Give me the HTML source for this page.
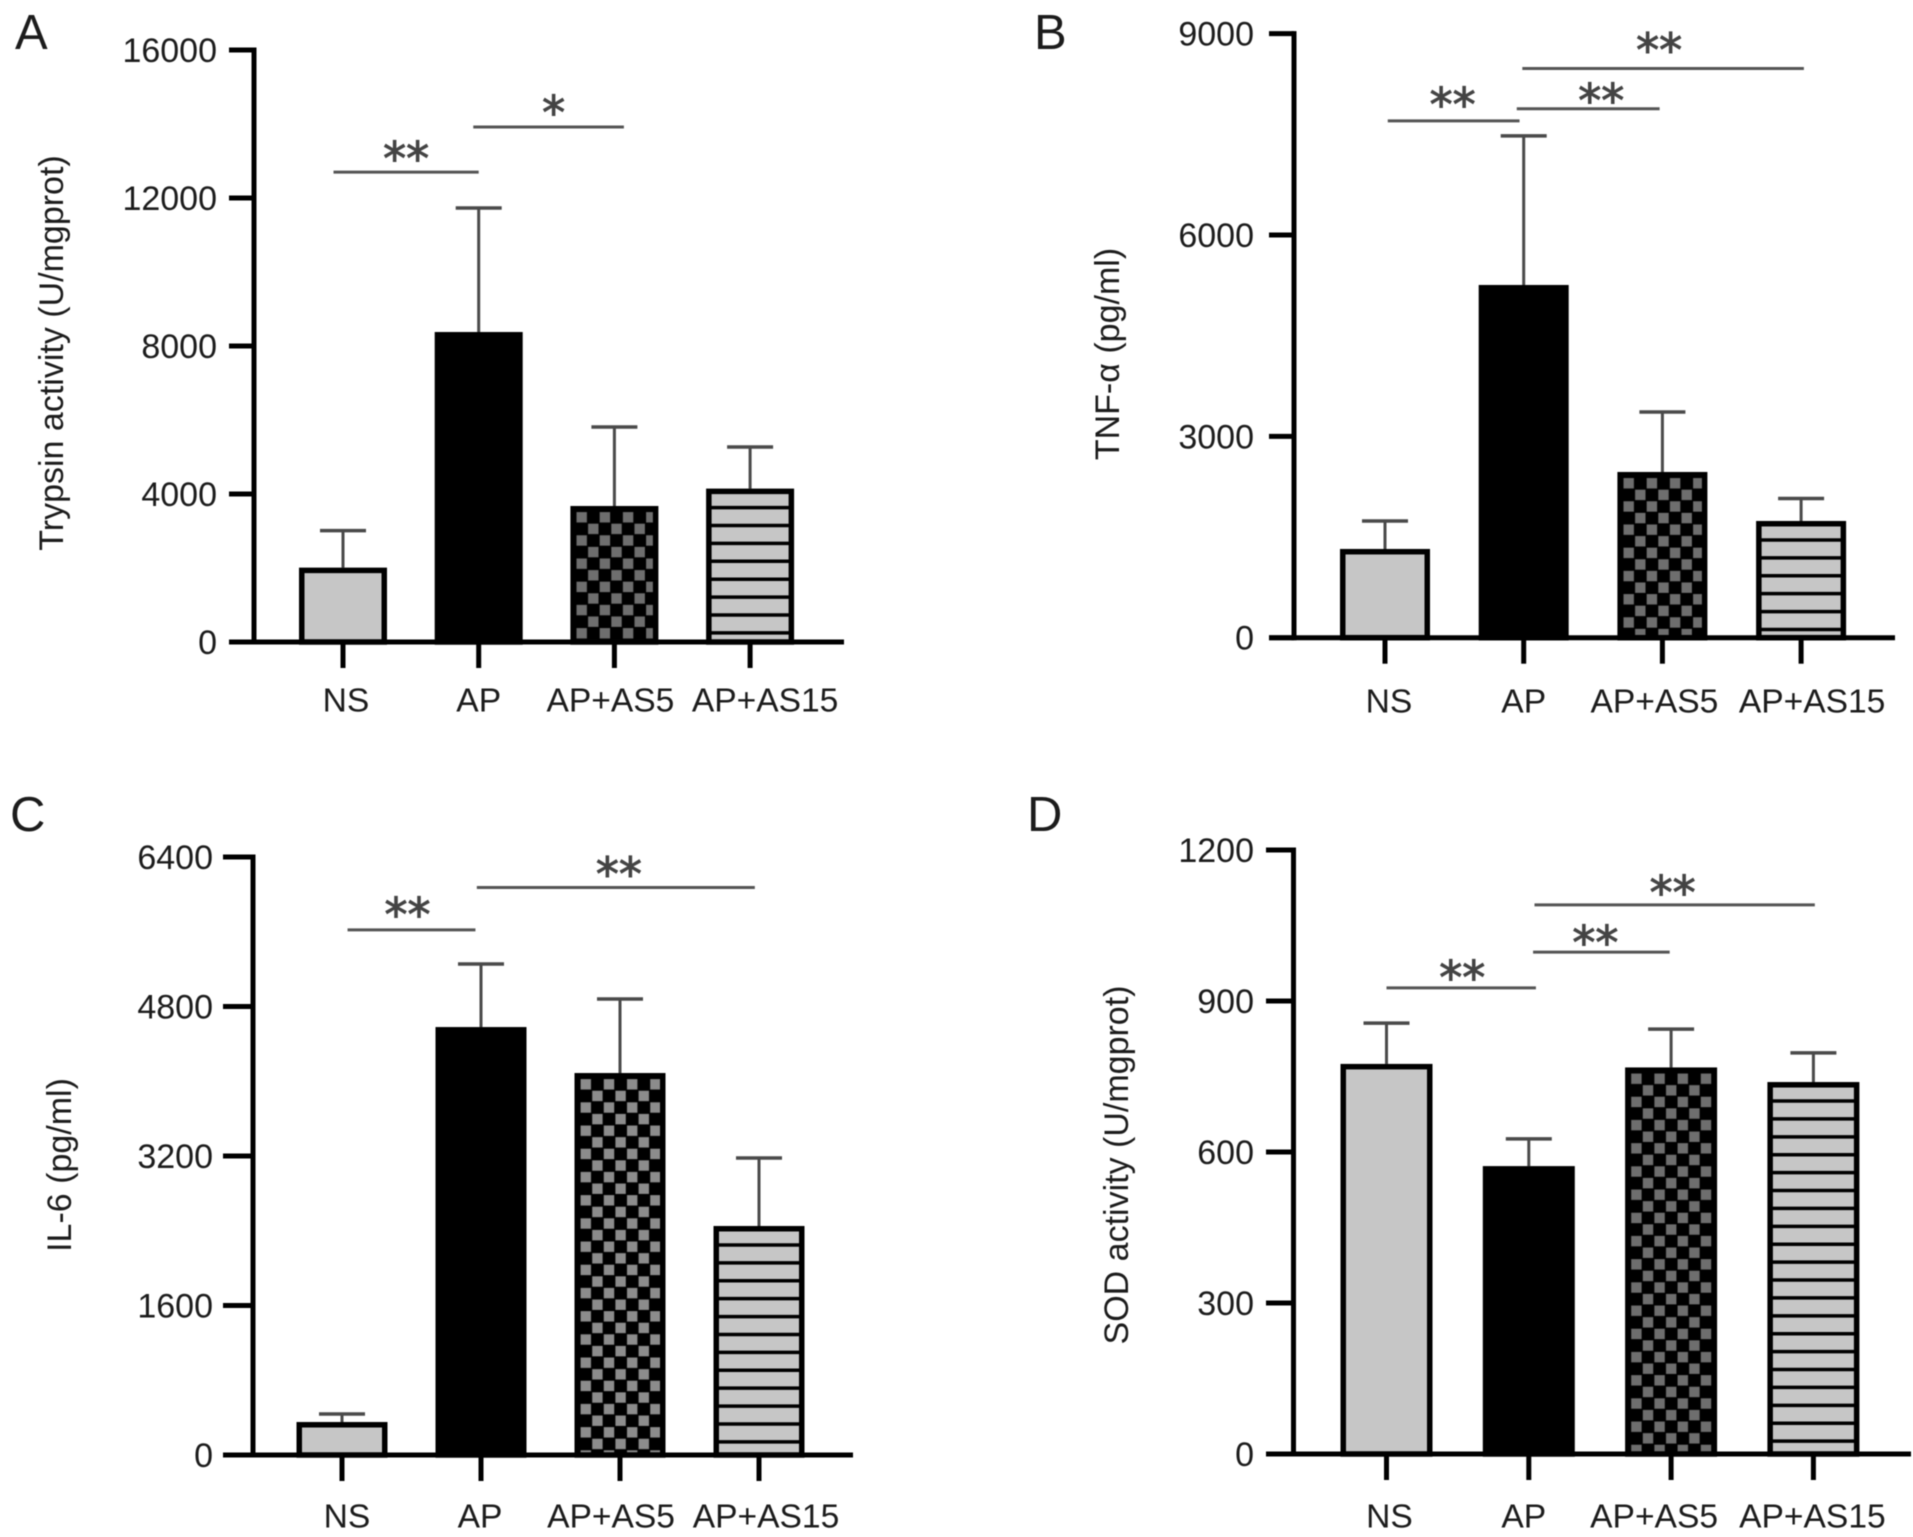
<!DOCTYPE html>
<html lang="en">
<head>
<meta charset="utf-8">
<title>Biomarker bar charts</title>
<style>
html,body{margin:0;padding:0;background:#fff;width:1913px;height:1537px;overflow:hidden}
svg{display:block;filter:blur(0.6px)}
text{font-family:"Liberation Sans",sans-serif;fill:#1c1c1c}
</style>
</head>
<body>
<svg id="figure" xmlns="http://www.w3.org/2000/svg" width="1913" height="1537" viewBox="0 0 1913 1537">
<defs id="defs"></defs>
<rect width="1913" height="1537" fill="#fff"/>
</svg>
<script>
const categories = ['NS', 'AP', 'AP+AS5', 'AP+AS15'];

const valuesA = [2010, 8378, 3676, 4146];
const errorsA = [3010, 11730, 5810, 5270];
const ticksA = [0, 4000, 8000, 12000, 16000];
const bracketsA = [
  { from: -0.07, to: 1.0, level: 12700, mark: '**' },
  { from: 0.96, to: 2.07, level: 13920, mark: '*' }
];

const valuesB = [1322, 5255, 2469, 1739];
const errorsB = [1739, 7476, 3363, 2074];
const ticksB = [0, 3000, 6000, 9000];
const bracketsB = [
  { from: 0.02, to: 0.97, level: 7700, mark: '**' },
  { from: 0.95, to: 1.98, level: 7880, mark: '**' },
  { from: 0.99, to: 3.02, level: 8480, mark: '**' }
];

const valuesC = [353, 4580, 4088, 2451];
const errorsC = [439, 5255, 4880, 3178];
const ticksC = [0, 1600, 3200, 4800, 6400];
const bracketsC = [
  { from: 0.04, to: 0.96, level: 5620, mark: '**' },
  { from: 0.97, to: 2.97, level: 6073, mark: '**' }
];

const valuesD = [775, 572, 768, 739];
const errorsD = [856, 626, 844, 797];
const ticksD = [0, 300, 600, 900, 1200];
const bracketsD = [
  { from: 0, to: 1.05, level: 926, mark: '**' },
  { from: 1.03, to: 1.99, level: 997, mark: '**' },
  { from: 1.04, to: 3.01, level: 1091, mark: '**' }
];

const panels = [
  { id: 'a', letter: 'A', letterX: 15, letterY: 49, title: 'Trypsin activity (U/mgprot)', titleX: 52, titleY: 353,
    axisX: 254, axisEnd: 844, tickLeft: 229, yTop: 50, yBase: 642, labelRight: 217, labelY: 701, firstX: 343, stepX: 135.7,
    barW: 88, capHalf: 23, checker: '#6e6e6e', labelShift: [3, 0, -4, 15], markShift: [[0, 7], [5, 6]],
    values: valuesA, errors: errorsA, ticks: ticksA, brackets: bracketsA },
  { id: 'b', letter: 'B', letterX: 1034, letterY: 49, title: 'TNF-\u03B1 (pg/ml)', titleX: 1108, titleY: 354,
    axisX: 1294, axisEnd: 1895, tickLeft: 1269, yTop: 33.6, yBase: 637.7, labelRight: 1254, labelY: 702, firstX: 1385, stepX: 138.7,
    barW: 90, capHalf: 23, checker: '#6e6e6e', labelShift: [4, 0, -8, 11], markShift: [[-1, 4], [13, 12], [-4, 2]],
    values: valuesB, errors: errorsB, ticks: ticksB, brackets: bracketsB },
  { id: 'c', letter: 'C', letterX: 10, letterY: 831, title: 'IL-6 (pg/ml)', titleX: 60, titleY: 1165,
    axisX: 253, axisEnd: 853, tickLeft: 223, yTop: 857, yBase: 1455, labelRight: 213, labelY: 1517, firstX: 342, stepX: 139,
    barW: 91, capHalf: 23, checker: '#8c8c8c', labelShift: [5, -1, -9, 7], markShift: [[-4, 5], [3, 7]],
    values: valuesC, errors: errorsC, ticks: ticksC, brackets: bracketsC },
  { id: 'd', letter: 'D', letterX: 1027, letterY: 831, title: 'SOD activity (U/mgprot)', titleX: 1117, titleY: 1165,
    axisX: 1293.5, axisEnd: 1911, tickLeft: 1266, yTop: 850, yBase: 1454, labelRight: 1254, labelY: 1517, firstX: 1386.5, stepX: 142.3,
    barW: 92, capHalf: 23, checker: '#6e6e6e', labelShift: [3, -5, -17, -1], markShift: [[1, 10], [-6, 11], [-2, 8]],
    values: valuesD, errors: errorsD, ticks: ticksD, brackets: bracketsD }
];

const SVGNS = 'http://www.w3.org/2000/svg';
const figure = document.getElementById('figure');
const defs = document.getElementById('defs');

function make(tag, attrs, parent) {
  const node = document.createElementNS(SVGNS, tag);
  for (const key in attrs) node.setAttribute(key, attrs[key]);
  parent.appendChild(node);
  return node;
}

function slug(text) {
  return text.toLowerCase().replace(/\+/g, '-');
}

function checkerPattern(panel, index, left, top) {
  const cell = 11.6;
  const size = 10.4;
  const id = 'checker-' + panel.id + index;
  const pattern = make('pattern', { id: id, width: cell * 2, height: cell * 2, patternUnits: 'userSpaceOnUse',
    patternTransform: 'translate(' + (left + 5) + ' ' + (top + 5) + ')' }, defs);
  make('rect', { x: 0, y: 0, width: cell * 2, height: cell * 2, fill: '#000' }, pattern);
  make('rect', { x: 1.1, y: 1.1, width: size, height: size, fill: panel.checker }, pattern);
  make('rect', { x: cell + 1.1, y: cell + 1.1, width: size, height: size, fill: panel.checker }, pattern);
  return 'url(#' + id + ')';
}

function drawPanel(panel) {
  const g = make('g', {}, figure);
  
  

  const maxTick = panel.ticks[panel.ticks.length - 1];
  const yScale = v => panel.yBase - (v / maxTick) * (panel.yBase - panel.yTop);
  const xScale = i => panel.firstX + panel.stepX * i;

  const letter = make('text', { x: panel.letterX, y: panel.letterY, 'font-size': 49 }, g);
  letter.textContent = panel.letter;
  
  

  const title = make('text', { x: 0, y: 0, 'font-size': 34, 'text-anchor': 'middle',
    transform: 'translate(' + panel.titleX + ' ' + panel.titleY + ') rotate(-90)', 'dominant-baseline': 'central' }, g);
  title.textContent = panel.title;
  
  

  panel.values.forEach((value, i) => {
    const cx = xScale(i);
    const topY = yScale(value);
    const left = cx - panel.barW / 2;
    const errY = yScale(panel.errors[i]);

    const stem = make('line', { x1: cx, x2: cx, y1: errY, y2: topY, stroke: '#4a4a4a', 'stroke-width': 3 }, g);
    
    

    const cap = make('line', { x1: cx - panel.capHalf, x2: cx + panel.capHalf, y1: errY, y2: errY, stroke: '#4a4a4a', 'stroke-width': 3.5 }, g);
    
    

    let fill = '#c6c6c6';
    if (i === 1) fill = '#000';
    if (i === 2) fill = checkerPattern(panel, i, left, topY);
    const bar = make('rect', { x: left + 2.75, y: topY + 2.75, width: panel.barW - 5.5, height: panel.yBase - topY - 2.75,
      fill: fill, stroke: '#000', 'stroke-width': 5.5 }, g);
    
    

    if (i === 3) {
      for (let y = topY + 19; y < panel.yBase - 4; y += 17.9) {
        const stripe = make('line', { x1: left + 3, x2: left + panel.barW - 3, y1: y, y2: y, stroke: '#000', 'stroke-width': 3.5 }, g);
        
        
      }
    }

    const tick = make('line', { x1: cx, x2: cx, y1: panel.yBase, y2: panel.yBase + 26, stroke: '#000', 'stroke-width': 5 }, g);
    
    

    const label = make('text', { x: cx + panel.labelShift[i], y: panel.labelY, 'font-size': 33.6, 'text-anchor': 'middle', 'dominant-baseline': 'central' }, g);
    label.textContent = categories[i];
    
    
  });

  const yAxis = make('line', { x1: panel.axisX, x2: panel.axisX, y1: panel.yTop - 2.5, y2: panel.yBase + 2.5, stroke: '#000', 'stroke-width': 5 }, g);
  
  

  const xAxis = make('line', { x1: panel.tickLeft, x2: panel.axisEnd, y1: panel.yBase, y2: panel.yBase, stroke: '#000', 'stroke-width': 5 }, g);
  
  

  panel.ticks.forEach(value => {
    const y = yScale(value);
    const tick = make('line', { x1: panel.tickLeft, x2: panel.axisX, y1: y, y2: y, stroke: '#000', 'stroke-width': 5 }, g);
    
    

    const label = make('text', { x: panel.labelRight, y: y + 1, 'font-size': 34, 'text-anchor': 'end', 'dominant-baseline': 'central' }, g);
    label.textContent = String(value);
    
    
  });

  panel.brackets.forEach((b, i) => {
    const y = yScale(b.level);
    const line = make('line', { x1: xScale(b.from), x2: xScale(b.to), y1: y, y2: y, stroke: '#555', 'stroke-width': 3 }, g);
    
    

    const shift = panel.markShift[i];
    const mark = make('text', { x: (xScale(b.from) + xScale(b.to)) / 2 + shift[0], y: y - 4 + shift[1], 'font-size': 46, 'text-anchor': 'middle',
      style: 'font-family:"DejaVu Sans",sans-serif;fill:#444;stroke:#444;stroke-width:1' }, g);
    mark.textContent = b.mark;
    
    
  });
}

panels.forEach(drawPanel);
</script>
</body>
</html>
